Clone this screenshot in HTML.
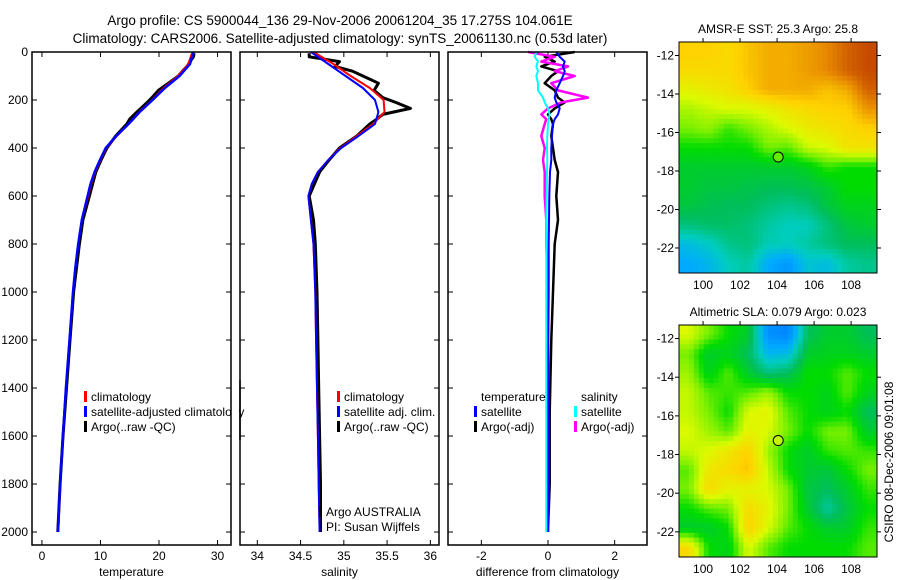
<!DOCTYPE html>
<html><head><meta charset="utf-8">
<style>
html,body{margin:0;padding:0;background:#fff;}
svg{display:block;font-family:"Liberation Sans",sans-serif;}
text{fill:#000;}
</style></head>
<body>
<svg id="fig" width="900" height="580" viewBox="0 0 900 580">
<text x="340" y="25" font-size="13.5" text-anchor="middle">Argo profile: CS 5900044_136 29-Nov-2006 20061204_35 17.275S 104.061E</text>
<text x="340" y="43" font-size="13.5" text-anchor="middle">Climatology: CARS2006. Satellite-adjusted climatology: synTS_20061130.nc (0.53d later)</text>
<g id="plots"></g>
<text transform="translate(893,462) rotate(-90)" font-size="12" text-anchor="middle">CSIRO 08-Dec-2006 09:01:08</text>
</svg>
<script>
// ---------- data ----------
const pTicks = [0,200,400,600,800,1000,1200,1400,1600,1800,2000];
const tTicks = [0,10,20,30];
const sTicks = [34,34.5,35,35.5,36];
const dTicks = [-2,0,2];

const presClim = [0,50,100,150,200,250,300,350,400,450,500,550,600,700,800,900,1000,1200,1400,1600,1800,2000];
const tempClim = [25.7,25.0,23.2,20.8,18.8,16.6,14.8,12.8,11.0,10.0,9.1,8.4,7.9,6.8,6.2,5.7,5.3,4.7,4.1,3.6,3.1,2.8];
const tempSat  = [25.9,25.3,23.5,21.0,18.9,16.7,14.8,12.7,10.9,9.9,9.0,8.3,7.8,6.8,6.2,5.7,5.3,4.7,4.1,3.6,3.1,2.7];
const salClim  = [34.65,34.88,35.08,35.30,35.46,35.47,35.34,35.15,34.96,34.82,34.70,34.63,34.59,34.62,34.65,34.66,34.67,34.68,34.69,34.70,34.71,34.72];
const salSat   = [34.62,34.82,35.02,35.22,35.36,35.40,35.36,35.17,34.97,34.82,34.70,34.63,34.59,34.62,34.65,34.66,34.67,34.68,34.69,34.70,34.71,34.72];

const presArgo = [5,20,40,60,80,100,130,160,190,210,235,260,280,300,350,400,450,500,600,700,800,1000,1200,1400,1600,1800,2000];
const tempArgo = [26.0,25.9,25.3,24.8,24.0,23.3,21.6,19.9,18.8,18.0,16.9,15.8,15.0,14.5,12.6,11.1,10.1,9.2,8.1,7.0,6.4,5.4,4.8,4.2,3.6,3.1,2.7];
const salArgo  = [34.60,34.60,34.95,34.90,35.10,35.22,35.40,35.35,35.45,35.60,35.77,35.45,35.38,35.30,35.15,34.95,34.83,34.72,34.60,34.65,34.67,34.69,34.70,34.71,34.72,34.73,34.73];

const presDiff = [0,20,40,60,80,100,130,160,190,210,235,260,280,300,350,400,450,500,600,700,800,1000,1200,1500,1800,2000];
const dTempSat = [0.25,0.35,0.5,0.45,0.5,0.45,0.35,0.25,0.2,0.25,0.35,0.3,0.2,0.15,0.12,0.1,0.1,0.06,0.04,0.03,0.02,0.02,0.01,0.0,0.0,0.0];
const dSalSat  = [-0.35,-0.4,-0.3,-0.35,-0.3,-0.35,-0.3,-0.3,-0.15,-0.1,0.0,0.05,0.02,0.0,-0.02,-0.03,-0.02,-0.03,-0.04,-0.05,-0.05,-0.05,-0.05,-0.05,-0.05,-0.05];
const dTempArgo= [0.8,-0.1,0.2,-0.2,0.3,0.1,-0.1,0.2,0.3,0.5,0.2,0.0,0.1,0.15,0.1,0.15,0.2,0.3,0.25,0.3,0.2,0.15,0.1,0.05,0.05,0.0];
const dSalArgo = [-0.6,0.2,-0.2,0.6,0.2,0.8,0.1,0.3,1.2,0.4,0.0,-0.2,-0.05,-0.1,-0.2,-0.1,-0.15,-0.1,-0.1,-0.05,-0.05,0.0,0.0,0.0,0.0,0.0];

const mapXTicks = [100,102,104,106,108];
const mapYTicks = [-12,-14,-16,-18,-20,-22];
const argoLon = 104.061, argoLat = -17.275;
const sstGrid = [
[0.80,0.80,0.78,0.82,0.85,0.85,0.87,0.90,0.95,0.98],
[0.78,0.78,0.78,0.82,0.85,0.85,0.87,0.90,0.95,0.98],
[0.72,0.74,0.76,0.80,0.85,0.85,0.85,0.82,0.85,0.95],
[0.66,0.68,0.70,0.70,0.72,0.76,0.78,0.80,0.80,0.88],
[0.62,0.64,0.58,0.62,0.66,0.70,0.74,0.76,0.78,0.80],
[0.55,0.55,0.55,0.55,0.62,0.60,0.68,0.70,0.76,0.76],
[0.50,0.50,0.50,0.50,0.50,0.50,0.52,0.58,0.55,0.55],
[0.50,0.48,0.48,0.47,0.46,0.46,0.47,0.50,0.55,0.55],
[0.48,0.46,0.45,0.45,0.42,0.40,0.42,0.48,0.52,0.52],
[0.42,0.44,0.44,0.42,0.38,0.35,0.35,0.42,0.48,0.50],
[0.30,0.34,0.40,0.42,0.36,0.35,0.38,0.42,0.45,0.45],
[0.25,0.28,0.35,0.38,0.25,0.20,0.32,0.30,0.38,0.40]];
const slaGrid = [
[0.70,0.62,0.55,0.50,0.18,0.15,0.45,0.50,0.50,0.45],
[0.62,0.50,0.52,0.45,0.28,0.30,0.50,0.52,0.52,0.50],
[0.65,0.52,0.60,0.50,0.42,0.45,0.55,0.55,0.60,0.55],
[0.68,0.60,0.58,0.60,0.65,0.55,0.55,0.52,0.60,0.52],
[0.68,0.62,0.55,0.70,0.72,0.60,0.55,0.52,0.55,0.45],
[0.70,0.65,0.60,0.72,0.70,0.62,0.55,0.62,0.62,0.50],
[0.68,0.70,0.75,0.80,0.65,0.55,0.50,0.58,0.60,0.58],
[0.60,0.75,0.78,0.82,0.68,0.55,0.50,0.48,0.55,0.62],
[0.62,0.78,0.72,0.72,0.70,0.62,0.48,0.45,0.50,0.58],
[0.55,0.60,0.62,0.78,0.72,0.62,0.50,0.38,0.48,0.55],
[0.50,0.50,0.55,0.80,0.70,0.60,0.55,0.50,0.50,0.58],
[0.78,0.55,0.52,0.70,0.60,0.55,0.55,0.55,0.55,0.60]];

// ---------- drawing ----------
const NS="http://www.w3.org/2000/svg";
const root=document.getElementById('plots');
function el(tag,attrs,parent){const e=document.createElementNS(NS,tag);for(const k in attrs)e.setAttribute(k,attrs[k]);(parent||root).appendChild(e);return e;}

const PT=52, PB=545, P0=0, P1=2054;
const yP=p=>PT+(p-P0)/(P1-P0)*(PB-PT);

function panel(name,x0,x1,d0,d1,xt,xlabel,showY){
  const g=el('g',{});
  
  
  const xs=v=>x0+(v-d0)/(d1-d0)*(x1-x0);
  xt.forEach(v=>{const x=xs(v);
    el('line',{x1:x,x2:x,y1:PB,y2:PB-5,stroke:'#000'},g);
    el('line',{x1:x,x2:x,y1:PT,y2:PT+5,stroke:'#000'},g);
    const t=el('text',{x:x,y:PB+15,'font-size':12,'text-anchor':'middle'},g);t.textContent=v;
    
    
  });
  pTicks.forEach(v=>{const y=yP(v);
    el('line',{x1:x0,x2:x0+5,y1:y,y2:y,stroke:'#000'},g);
    el('line',{x1:x1,x2:x1-5,y1:y,y2:y,stroke:'#000'},g);
    if(showY){const t=el('text',{x:x0-4,y:y+4,'font-size':12,'text-anchor':'end'},g);t.textContent=v;
      
      }
  });
  const lab=el('text',{x:(x0+x1)/2,y:576,'font-size':12,'text-anchor':'middle'},g);lab.textContent=xlabel;
  
  
  return {g,xs};
}
function line(pan,vals,pres,color,w,name){
  const pts=vals.map((v,i)=>pan.xs(v).toFixed(1)+','+yP(pres[i]).toFixed(1)).join(' ');
  const pl=el('polyline',{points:pts,fill:'none',stroke:color,'stroke-width':w,'stroke-linejoin':'round'},pan.g);
  
  
}
function box(pan,x0,x1){el('rect',{x:x0,y:PT,width:x1-x0,height:PB-PT,fill:'none',stroke:'#000','stroke-width':1.5},pan.g);}
function legend(pan,x,y,items){
  items.forEach((it,i)=>{
    const yy=y+i*15;
    if(it.c) el('rect',{x:x,y:yy-10,width:3,height:11,fill:it.c},pan.g);
    const t=el('text',{x:x+7,y:yy,'font-size':12},pan.g);t.textContent=it.t;
    
    
  });
}

const p1=panel('temperature-panel',32,231,-1.7,32.3,tTicks,'temperature',true);
line(p1,tempArgo,presArgo,'#000',3,'argo-temperature-line');
line(p1,tempClim,presClim,'#f00',2,'climatology-temperature-line');
line(p1,tempSat,presClim,'#00f',2.5,'satellite-temperature-line');
box(p1,32,231);
const p2=panel('salinity-panel',240,439,33.8,36.1,sTicks,'salinity',false);
line(p2,salArgo,presArgo,'#000',3,'argo-salinity-line');
line(p2,salClim,presClim,'#f00',2,'climatology-salinity-line');
line(p2,salSat,presClim,'#00f',2,'satellite-salinity-line');
box(p2,240,439);
const p3=panel('difference-panel',448,647,-3,2.97,dTicks,'difference from climatology',false);
line(p3,dTempArgo,presDiff,'#000',2.5,'argo-temp-diff-line');
line(p3,dSalArgo,presDiff,'#f0f',2.5,'argo-sal-diff-line');
line(p3,dTempSat,presDiff,'#00f',2,'sat-temp-diff-line');
line(p3,dSalSat,presDiff,'#0ff',2,'sat-sal-diff-line');
box(p3,448,647);

legend(p1,84,401,[{c:'#f00',t:'climatology'},{c:'#00f',t:'satellite-adjusted climatology'},{c:'#000',t:'Argo(..raw -QC)'}]);
root.appendChild(el('rect',{x:232,y:380,width:7,height:60,fill:'#fff'}));
el('line',{x1:240,x2:240,y1:380,y2:440,stroke:'#000','stroke-width':1.5});
legend(p2,337,401,[{c:'#f00',t:'climatology'},{c:'#00f',t:'satellite adj. clim.'},{c:'#000',t:'Argo(..raw -QC)'}]);
legend(p2,319,516,[{c:'#000',t:'Argo AUSTRALIA'},{c:null,t:'PI: Susan Wijffels'}]);
legend(p3,474,401,[{c:null,t:'temperature'},{c:'#00f',t:'satellite'},{c:'#000',t:'Argo(-adj)'}]);
legend(p3,574,401,[{c:null,t:'salinity'},{c:'#0ff',t:'satellite'},{c:'#f0f',t:'Argo(-adj)'}]);

const cmStops=[[0,[0,80,255]],[0.25,[0,170,255]],[0.35,[0,205,190]],[0.45,[0,190,90]],[0.55,[0,220,0]],[0.62,[120,240,0]],[0.7,[220,250,0]],[0.8,[255,210,0]],[0.9,[230,135,0]],[1,[190,60,0]]];
function cmap(v){for(let i=1;i<cmStops.length;i++){if(v<=cmStops[i][0]){const a=cmStops[i-1],b=cmStops[i],f=(v-a[0])/(b[0]-a[0]);return 'rgb('+a[1].map((c,k)=>Math.round(c+f*(b[1][k]-c))).join(',')+')';}}return 'rgb(190,60,0)';}
function sample(grid,fr,fc){
  const R=grid.length,C=grid[0].length;
  const r=Math.min(Math.max(fr-0.5,0),R-1),c=Math.min(Math.max(fc-0.5,0),C-1);
  const r0=Math.floor(r),c0=Math.floor(c),r1=Math.min(r0+1,R-1),c1=Math.min(c0+1,C-1),a=r-r0,b=c-c0;
  return grid[r0][c0]*(1-a)*(1-b)+grid[r0][c1]*(1-a)*b+grid[r1][c0]*a*(1-b)+grid[r1][c1]*a*b;
}

function mapPanel(name,title,grid,x0,y0,x1,y1){
  const g=el('g',{});
  
  
  const lon0=98.7,lon1=109.4,lat0=-11.3,lat1=-23.3;
  const xs=v=>x0+(v-lon0)/(lon1-lon0)*(x1-x0);
  const ys=v=>y0+(v-lat0)/(lat1-lat0)*(y1-y0);
  const R=grid.length,C=grid[0].length,S=4;
  const cw=(x1-x0)/(C*S),ch=(y1-y0)/(R*S);
  for(let r=0;r<R*S;r++)for(let c=0;c<C*S;c++){
    const v=sample(grid,(r+0.5)/S,(c+0.5)/S);
    const cell=el('rect',{x:(x0+c*cw).toFixed(2),y:(y0+r*ch).toFixed(2),width:(cw+0.5).toFixed(2),height:(ch+0.5).toFixed(2),fill:cmap(v)},g);
    
    
  }
  el('rect',{x:x0,y:y0,width:x1-x0,height:y1-y0,fill:'none',stroke:'#000'},g);
  mapXTicks.forEach(v=>{const x=xs(v);
    el('line',{x1:x,x2:x,y1:y0,y2:y0-4,stroke:'#000'},g);
    const t=el('text',{x:x,y:y1+16,'font-size':12,'text-anchor':'middle'},g);t.textContent=v;
    
    });
  mapYTicks.forEach(v=>{const y=ys(v);
    el('line',{x1:x0,x2:x0-4,y1:y,y2:y,stroke:'#000'},g);
    el('line',{x1:x1,x2:x1+4,y1:y,y2:y,stroke:'#000'},g);
    const t=el('text',{x:x0-5,y:y+4,'font-size':12,'text-anchor':'end'},g);t.textContent=v;
    
    });
  const tt=el('text',{x:(x0+x1)/2,y:y0-9,'font-size':12,'text-anchor':'middle'},g);tt.textContent=title;
  
  
  const dv=sample(grid,(argoLat-lat0)/(lat1-lat0)*R,(argoLon-lon0)/(lon1-lon0)*C);
  const dot=el('circle',{cx:xs(argoLon),cy:ys(argoLat),r:5,fill:cmap(dv+0.05),stroke:'#000'},g);
  
  
}
mapPanel('sst-map','AMSR-E SST: 25.3 Argo: 25.8',sstGrid,679,42,877,273);
mapPanel('sla-map','Altimetric SLA: 0.079 Argo: 0.023',slaGrid,679,325,877,557);
</script>
</body></html>
